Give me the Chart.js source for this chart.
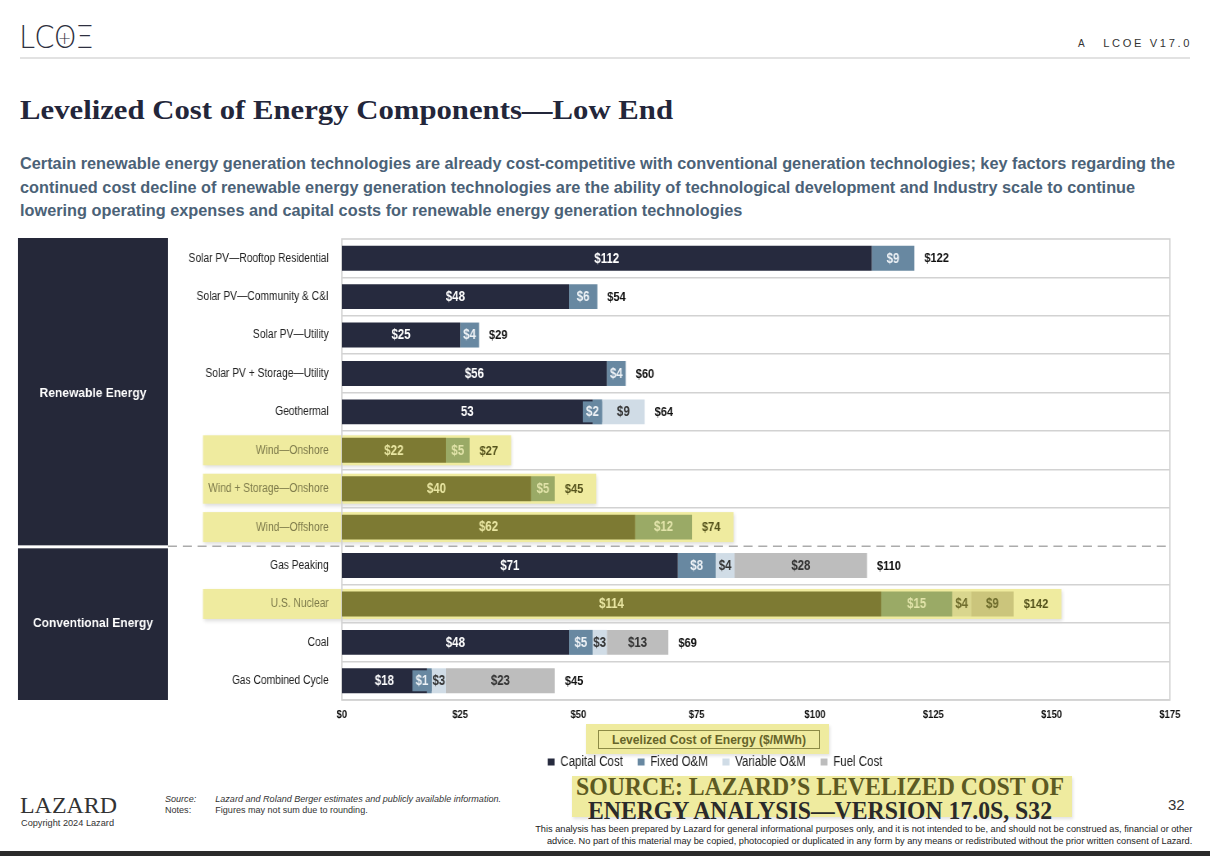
<!DOCTYPE html>
<html>
<head>
<meta charset="utf-8">
<script src="https://cdn.jsdelivr.net/npm/chart.js@4.4.1/dist/chart.umd.min.js"></script>
<style>
html,body{margin:0;padding:0;width:1210px;height:856px;overflow:hidden;background:#fff;}
body{position:relative;font-family:'Liberation Sans',Arial,sans-serif;color:#222;}
.abs{position:absolute;white-space:nowrap;}
#logo{left:19px;top:20px;font-family:'DejaVu Sans',sans-serif;font-weight:200;font-size:32px;line-height:34px;color:#2e3040;letter-spacing:-1px;}
#logo .o{position:relative;display:inline-block;}
#logo .plus{position:absolute;left:0;right:0;top:1px;text-align:center;font-size:18px;line-height:34px;letter-spacing:0;}
#verA{left:1078px;top:38px;font-size:10px;color:#333;}
#ver{right:18px;top:38px;font-size:10px;letter-spacing:2.4px;color:#333;}
#hline{left:20px;top:57px;width:1170px;height:2px;background:#e2e2e2;}
#title{left:20px;top:97px;font-family:'Liberation Serif','Times New Roman',serif;font-weight:bold;font-size:27px;line-height:27px;color:#23263a;}
#sub{left:20px;top:152px;font-size:17px;line-height:23.5px;font-weight:bold;color:#4b6277;}
#chartwrap{position:absolute;left:0;top:0;width:1210px;height:856px;z-index:2;}
#c{width:1210px !important;height:856px !important;display:block;}
#axtitle{left:586px;top:724px;width:243px;height:30px;background:#efeb9f;box-shadow:1px 2px 3px rgba(0,0,0,0.12);}
#axbox{position:absolute;left:12px;top:6px;width:220px;height:17px;border:1px solid #8c8a45;}
#axtext{left:612px;top:732px;font-size:13px;line-height:15px;font-weight:bold;color:#66642a;}
#srcbox{left:572px;top:776px;width:500px;height:41px;background:#efeb9f;box-shadow:1px 2px 3px rgba(0,0,0,0.12);}
#src1,#src2{font-family:'Liberation Serif','Times New Roman',serif;font-weight:bold;font-size:26px;line-height:26px;}
#src1{left:576px;top:774px;color:#5d5a22;}
#src2{left:588px;top:798px;color:#2a2a2a;}
#lazard{left:20px;top:793px;font-family:'Liberation Serif','Times New Roman',serif;font-size:24px;line-height:24px;color:#333;}
#copy{left:21px;top:818px;font-size:9px;color:#333;}
#notes{left:165px;top:794px;font-size:9px;line-height:11px;color:#333;}
#notes span{display:inline-block;width:50px;}
#page{left:1168px;top:796px;font-size:15px;color:#333;}
#disc{right:18px;top:823px;text-align:right;font-size:9px;line-height:12px;color:#222;}
#bottombar{left:0;top:851px;width:1210px;height:5px;background:#2b2b2b;}
</style>
</head>
<body>
<div class="abs" id="logo">LC<span class="o">O<span class="plus">+</span></span>Ξ</div>
<div class="abs" id="verA">A</div>
<div class="abs" id="ver">LCOE V17.0</div>
<div class="abs" id="hline"></div>
<div class="abs" id="title">Levelized Cost of Energy Components—Low End</div>
<div class="abs" id="sub">Certain renewable energy generation technologies are already cost-competitive with conventional generation technologies; key factors regarding the<br>continued cost decline of renewable energy generation technologies are the ability of technological development and Industry scale to continue<br>lowering operating expenses and capital costs for renewable energy generation technologies</div>

<div class="abs" id="axtitle"><div id="axbox"></div></div>
<div class="abs" id="axtext">Levelized Cost of Energy ($/MWh)</div>
<div class="abs" id="srcbox"></div>
<div class="abs" id="src1">SOURCE: LAZARD’S LEVELIZED COST OF</div>
<div class="abs" id="src2">ENERGY ANALYSIS—VERSION 17.0S, S32</div>

<div class="abs" id="lazard">LAZARD</div>
<div class="abs" id="copy">Copyright 2024 Lazard</div>
<div class="abs" id="notes"><i><span>Source:</span>Lazard and Roland Berger estimates and publicly available information.</i><br><span>Notes:</span>Figures may not sum due to rounding.</div>
<div class="abs" id="page">32</div>
<div class="abs" id="disc">This analysis has been prepared by Lazard for general informational purposes only, and it is not intended to be, and should not be construed as, financial or other<br>advice. No part of this material may be copied, photocopied or duplicated in any form by any means or redistributed without the prior written consent of Lazard.</div>
<div class="abs" id="bottombar"></div>

<div id="chartwrap"><canvas id="c" width="1476" height="856" style="width:1210px;height:856px;"></canvas></div>

<script>
// ---------- DATA ----------
const categories = ["Solar PV—Rooftop Residential","Solar PV—Community & C&I","Solar PV—Utility","Solar PV + Storage—Utility","Geothermal","Wind—Onshore","Wind + Storage—Onshore","Wind—Offshore","Gas Peaking","U.S. Nuclear","Coal","Gas Combined Cycle"];
const capitalCost = [112, 48, 25, 56, 53, 22, 40, 62, 71, 114, 48, 18];
const fixedOM     = [  9,  6,  4,  4,  2,  5,  5, 12,  8,  15,  5,  1];
const variableOM  = [  0,  0,  0,  0,  9,  0,  0,  0,  4,   4,  3,  3];
const fuelCost    = [  0,  0,  0,  0,  0,  0,  0,  0, 28,   9, 13, 23];
const totals      = [122, 54, 29, 60, 64, 27, 45, 74,110, 142, 69, 45];
const seriesNames = ["Capital Cost","Fixed O&M","Variable O&M","Fuel Cost"];
const groupNames  = ["Renewable Energy","Conventional Energy"];
const groupFirstRow = [0, 8];
const highlightedRows = ["Wind—Onshore","Wind + Storage—Onshore","Wind—Offshore","U.S. Nuclear"];
const unitlessCapitalRows = ["Geothermal"];
const xTickValues = [0,25,50,75,100,125,150,175];

// ---------- HTML text fitting ----------
function fit(id, target, origin){
  const el = document.getElementById(id);
  const w = el.getBoundingClientRect().width;
  el.style.transformOrigin = origin || 'left top';
  el.style.transform = 'scaleX(' + (target / w) + ')';
}
fit('title', 653);
fit('sub', 1155);
fit('axtext', 194);
fit('src1', 488);
fit('src2', 464);
fit('lazard', 97);
fit('copy', 93);
fit('notes', 336);
fit('disc', 657, 'right top');
fit('ver', 89, 'right top');
fit('logo', 74);

// ---------- STYLE ----------
const FONT = "'Liberation Sans', Arial, sans-serif";
const normalColors = ['#262a3e','#6888a1','#d0dce6','#bdbdbd'];
const hlColors     = ['#7d7a33','#9aaa66','#d9d68e','#cbc57c'];
const normalText   = ['#ffffff','#eef2f6','#333333','#333333'];
const hlText       = ['#e9e6a2','#e2e4aa','#6e6c2c','#6e6c2c'];
const isHL = i => highlightedRows.includes(categories[i]);
const seriesValues = [capitalCost, fixedOM, variableOM, fuelCost];
const PAGE_W = 1210;

Chart.defaults.font.family = FONT;

const datasets = seriesValues.map((vals, s) => ({
  label: seriesNames[s],
  data: vals,
  backgroundColor: ctx => (ctx.dataIndex !== undefined && isHL(ctx.dataIndex)) ? hlColors[s] : normalColors[s],
  borderWidth: 0,
  barPercentage: 0.65,
  categoryPercentage: 1.0
}));

function sepY(chart){
  const y = chart.scales.y;
  return (y.getPixelForValue(groupFirstRow[1]-1) + y.getPixelForValue(groupFirstRow[1]))/2;
}

const decor = {
  id: 'decor',
  afterLayout(chart){
    const S = chart.width / PAGE_W;
    const lg = chart.legend;
    if (lg) {
      const d = 715 * S - (lg.left + lg.right) / 2;
      lg.left += d; lg.right += d;
    }
  },
  beforeDraw(chart){
    const {ctx, chartArea: ca, scales:{x, y}} = chart;
    const S = chart.width / PAGE_W;
    ctx.save();
    ctx.font = "bold 13.5px " + FONT;
    categories.forEach((c, i) => {
      if (!isHL(i)) return;
      const end = capitalCost[i]+fixedOM[i]+variableOM[i]+fuelCost[i];
      const tx = x.getPixelForValue(end) + 10 * S;
      const w = ctx.measureText('$'+totals[i]).width;
      const cy = y.getPixelForValue(i);
      ctx.shadowColor = 'rgba(0,0,0,0.14)';
      ctx.shadowBlur = 4; ctx.shadowOffsetX = 1; ctx.shadowOffsetY = 2;
      ctx.fillStyle = '#efeb9f';
      const x0 = 203 * S;
      ctx.fillRect(x0, cy - 15, tx + w + 13 * S - x0, 30);
    });
    ctx.restore();
    const sy = sepY(chart);
    ctx.save();
    ctx.fillStyle = '#252839';
    const gx0 = 18 * S, gx1 = 168 * S;
    ctx.fillRect(gx0, ca.top - 1, gx1 - gx0, sy - ca.top);
    ctx.fillRect(gx0, sy + 2, gx1 - gx0, ca.bottom - sy - 2);
    ctx.fillStyle = '#ffffff';
    ctx.font = "bold 12px " + FONT;
    ctx.textAlign = 'center'; ctx.textBaseline = 'middle';
    [[ca.top, sy], [sy, ca.bottom]].forEach((r, g) => {
      ctx.save();
      ctx.translate((gx0 + gx1) / 2, (r[0] + r[1]) / 2 + 1);
      ctx.scale(S, 1);
      ctx.fillText(groupNames[g], 0, 0);
      ctx.restore();
    });
    ctx.restore();
  },
  beforeDatasetsDraw(chart){
    const {ctx, chartArea: ca} = chart;
    const S = chart.width / PAGE_W;
    ctx.save();
    ctx.strokeStyle = '#d2d2d2'; ctx.lineWidth = 1.6;
    ctx.strokeRect(ca.left, ca.top, ca.right - ca.left, ca.bottom - ca.top);
    const sy = sepY(chart);
    ctx.strokeStyle = '#ababab'; ctx.lineWidth = 1.5; ctx.setLineDash([11,7]);
    ctx.beginPath(); ctx.moveTo(168 * S, sy); ctx.lineTo(ca.right, sy); ctx.stroke();
    ctx.restore();
  },
  afterDatasetsDraw(chart){
    const {ctx, scales:{x}} = chart;
    const S = chart.width / PAGE_W;
    ctx.save();
    ctx.textBaseline = 'middle';
    ctx.font = "bold 14px " + FONT;
    seriesValues.forEach((vals, s) => {
      const meta = chart.getDatasetMeta(s);
      meta.data.forEach((el, i) => {
        const v = vals[i];
        if (!v) return;
        const p = el.getProps(['x','base','y','height'], true);
        let cx = (p.x + p.base)/2;
        const txt = (s === 0 && unitlessCapitalRows.includes(categories[i])) ? String(v) : '$' + v;
        const tw = ctx.measureText(txt).width;
        const segW = Math.abs(p.x - p.base);
        if (s === 1 && tw + 4 > segW) {
          const bw = tw + 8;
          ctx.fillStyle = isHL(i) ? hlColors[1] : normalColors[1];
          ctx.fillRect(p.x - bw, p.y - p.height/2 + 2, bw, p.height - 4);
          cx = p.x - bw / 2;
        }
        ctx.fillStyle = isHL(i) ? hlText[s] : normalText[s];
        ctx.textAlign = 'center';
        ctx.fillText(txt, cx, p.y + 0.5);
      });
    });
    ctx.font = "bold 13.5px " + FONT;
    categories.forEach((c, i) => {
      const end = capitalCost[i]+fixedOM[i]+variableOM[i]+fuelCost[i];
      const el = chart.getDatasetMeta(0).data[i];
      ctx.textAlign = 'left';
      ctx.fillStyle = isHL(i) ? '#55531c' : '#111111';
      ctx.fillText('$' + totals[i], x.getPixelForValue(end) + 10 * S, el.y + 0.5);
    });
    ctx.restore();
  }
};

new Chart(document.getElementById('c'), {
  type: 'bar',
  data: { labels: categories, datasets },
  options: {
    indexAxis: 'y',
    responsive: false,
    animation: false,
    devicePixelRatio: 1,
    layout: { padding: { left: 0, right: 49, top: 239, bottom: 77 } },
    scales: {
      x: {
        stacked: true, min: 0, max: 175,
        afterBuildTicks: s => { s.ticks = xTickValues.map(v => ({value: v})); },
        afterFit: s => { s.height = 37; },
        grid: { display: false, drawTicks: false },
        border: { display: false },
        ticks: { callback: v => '$' + v, color: '#111', padding: 8, font: { size: 11.5, weight: 'bold' }, maxRotation: 0 }
      },
      y: {
        stacked: true,
        afterFit: s => { s.width = 417; },
        grid: {
          offset: true, drawTicks: false, lineWidth: 1.6,
          color: c => (c.index === groupFirstRow[1] || c.index === 0 || c.index === categories.length) ? 'rgba(0,0,0,0)' : '#d2d2d2'
        },
        border: { display: false },
        ticks: {
          padding: 16, autoSkip: false,
          font: { size: 12.5 },
          color: c => isHL(c.index) ? '#7f7c4c' : '#222'
        }
      }
    },
    plugins: {
      legend: {
        position: 'bottom',
        labels: { boxWidth: 8.5, boxHeight: 7, padding: 18, color: '#222', font: { size: 14 } }
      },
      tooltip: { enabled: false }
    }
  },
  plugins: [decor]
});
</script>
</body>
</html>
